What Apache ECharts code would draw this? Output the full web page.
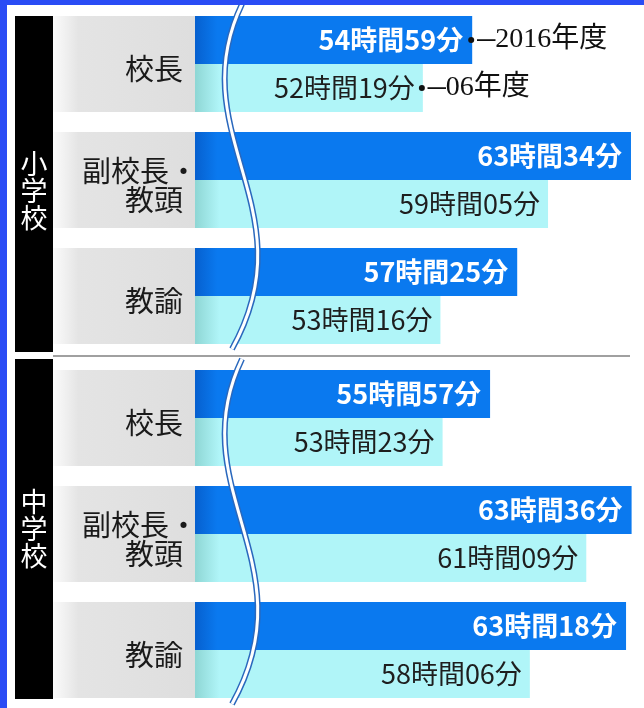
<!DOCTYPE html>
<html><head><meta charset="utf-8">
<script src="https://cdn.jsdelivr.net/npm/echarts@6/dist/echarts.min.js"></script>
<style>html,body{margin:0;padding:0;background:#fff}#c{width:644px;height:708px}</style>
</head><body><div id="c"></div>
<script>
// ---- data ----
const roles = ['校長', '副校長・\n教頭', '教諭'];
const schools = ['小学校', '中学校'];
const yearLabels = ['2016年度', '06年度'];
const elem2016H = [54, 63, 57], elem2016M = [59, 34, 25];
const elem2006H = [52, 59, 53], elem2006M = [19, 5, 16];
const jhs2016H = [55, 63, 63], jhs2016M = [57, 36, 18];
const jhs2006H = [53, 61, 58], jhs2006M = [23, 9, 6];
const axisMin = 40, axisMax = 64;

// ---- helpers ----
const toHours = (H, M) => H.map((h, i) => h + M[i] / 60);
const fmt = (H, M) => p => H[p.dataIndex] + '時間' + String(M[p.dataIndex]).padStart(2, '0') + '分';
const JP = '"Noto Sans CJK JP", "Noto Sans", sans-serif';
const SERIF = '"Liberation Serif", "DejaVu Serif", "Noto Sans CJK JP", serif';

// gradient background image for the label panels
const panel = document.createElement('canvas');
panel.width = 142; panel.height = 96;
(function () {
  const g = panel.getContext('2d');
  const lg = g.createLinearGradient(0, 0, 142, 0);
  lg.addColorStop(0, '#fbfbfb');
  lg.addColorStop(0.18, '#e4e4e4');
  lg.addColorStop(1, '#dedede');
  g.fillStyle = lg; g.fillRect(0, 0, 142, 96);
})();

const GRID_LEFT = 195;
const grids = [
  { left: GRID_LEFT, right: 5, top: 6, height: 348 },
  { left: GRID_LEFT, right: 5, top: 360, height: 348 }
];

const darkColor = { type: 'linear', x: GRID_LEFT, y: 0, x2: 639, y2: 0, global: true,
  colorStops: [{ offset: 0, color: '#0660cf' }, { offset: 0.05, color: '#0a79ef' }, { offset: 1, color: '#0a79ef' }] };
const lightColor = { type: 'linear', x: GRID_LEFT, y: 0, x2: 639, y2: 0, global: true,
  colorStops: [{ offset: 0, color: '#8ed6d4' }, { offset: 0.055, color: '#b0f5f8' }, { offset: 1, color: '#b0f5f8' }] };

const sets = [
  { newH: elem2016H, newM: elem2016M, oldH: elem2006H, oldM: elem2006M },
  { newH: jhs2016H, newM: jhs2016M, oldH: jhs2006H, oldM: jhs2006M }
];

const roleLabel = v => {
  const lines = v.split('\n').map(l => l.replace('・', '{dot|・}'));
  return (lines.length > 1 ? '{sp2| }' : '{sp1| }') + '\n' + lines.join('\n');
};

const xAxes = [], yAxes = [], series = [];
sets.forEach((s, gi) => {
  xAxes.push({ type: 'value', gridIndex: gi, min: axisMin, max: axisMax, show: false });
  yAxes.push({
    type: 'category', gridIndex: gi, data: roles, inverse: true,
    axisLine: { show: false }, axisTick: { show: false }, splitLine: { show: false },
    axisLabel: {
      margin: 0, color: '#1a1a1a', fontFamily: JP, fontSize: 29, lineHeight: 29,
      align: 'right', verticalAlign: 'middle',
      width: 128, height: 96, padding: [0, 12, 0, 2], overflow: 'none',
      backgroundColor: { image: panel },
      formatter: roleLabel,
      rich: {
        dot: { align: 'right', padding: [0, -15, 0, 0], fontFamily: JP, fontSize: 29, lineHeight: 29, color: '#1a1a1a' },
        sp1: { fontSize: 4, lineHeight: 38 },
        sp2: { fontSize: 4, lineHeight: 24 }
      }
    }
  });
  const newVals = toHours(s.newH, s.newM);
  const oldVals = toHours(s.oldH, s.oldM);
  const mk = (label, val) => gi === 0 ? {
    symbol: 'circle', symbolSize: 6, silent: true,
    itemStyle: { color: '#111' },
    label: {
      show: true, position: 'right', distance: 3,
      formatter: '{d|–}{t|' + label + '}',
      rich: {
        d: { fontFamily: SERIF, fontSize: 36, color: '#111' },
        t: { fontFamily: SERIF, fontSize: 28, color: '#111' }
      }
    },
    data: [{ coord: [val, 0], symbolOffset: [-1, 0] }]
  } : undefined;
  series.push({
    name: yearLabels[0], type: 'bar', xAxisIndex: gi, yAxisIndex: gi,
    data: newVals, barWidth: 48, barGap: '0%',
    itemStyle: { color: darkColor },
    label: { show: true, position: 'insideRight', distance: 9, color: '#fff',
      fontFamily: JP, fontSize: 27, fontWeight: 'bold', formatter: fmt(s.newH, s.newM) },
    markPoint: mk(yearLabels[0], newVals[0]),
    z: 2
  });
  series.push({
    name: yearLabels[1], type: 'bar', xAxisIndex: gi, yAxisIndex: gi,
    data: oldVals, barWidth: 48, barGap: '0%',
    itemStyle: { color: lightColor },
    label: { show: true, position: 'insideRight', distance: 8, color: '#1e1e1e',
      fontFamily: JP, fontSize: 27, formatter: fmt(s.oldH, s.oldM) },
    markPoint: mk(yearLabels[1], oldVals[0]),
    z: 2
  });
});

// decorations: frame, school tags, separator, broken-axis waves
const wave = (y0) => {
  const shape = { x1: 242, y1: y0, cpx1: 180, cpy1: y0 + 130, cpx2: 310, cpy2: y0 + 205, x2: 232, y2: y0 + 345 };
  return [
    { type: 'bezierCurve', shape, style: { stroke: '#2a68bd', lineWidth: 6, fill: null }, z: 100 },
    { type: 'bezierCurve', shape, style: { stroke: '#ffffff', lineWidth: 3, fill: null }, z: 101 }
  ];
};
const graphic = [
  { type: 'rect', shape: { x: 0, y: 0, width: 7, height: 708 }, style: { fill: '#2a4cf5' }, z: 200 },
  { type: 'rect', shape: { x: 0, y: 0, width: 644, height: 5 }, style: { fill: '#2a4cf5' }, z: 200 },
  { type: 'rect', shape: { x: 15, y: 16, width: 38, height: 336 }, style: { fill: '#000' }, z: 50 },
  { type: 'rect', shape: { x: 15, y: 359, width: 38, height: 340 }, style: { fill: '#000' }, z: 50 },
  { type: 'text', x: 34, y: 191, z: 51, style: { text: schools[0].split('').join('\n'), fill: '#fff',
      font: '27px ' + JP, align: 'center', verticalAlign: 'middle', lineHeight: 27 } },
  { type: 'text', x: 34, y: 529, z: 51, style: { text: schools[1].split('').join('\n'), fill: '#fff',
      font: '27px ' + JP, align: 'center', verticalAlign: 'middle', lineHeight: 27 } },
  { type: 'line', shape: { x1: 53, y1: 356, x2: 630, y2: 356 }, style: { stroke: '#a0a0a0', lineWidth: 2 }, z: 50 },
  ...wave(4), ...wave(359)
];

const chart = echarts.init(document.getElementById('c'), null, { renderer: 'canvas' });
chart.setOption({
  animation: false,
  backgroundColor: '#fff',
  grid: grids.map(g => Object.assign({ containLabel: false, outerBoundsMode: 'none' }, g)),
  xAxis: xAxes, yAxis: yAxes, series, graphic
});
</script></body></html>
